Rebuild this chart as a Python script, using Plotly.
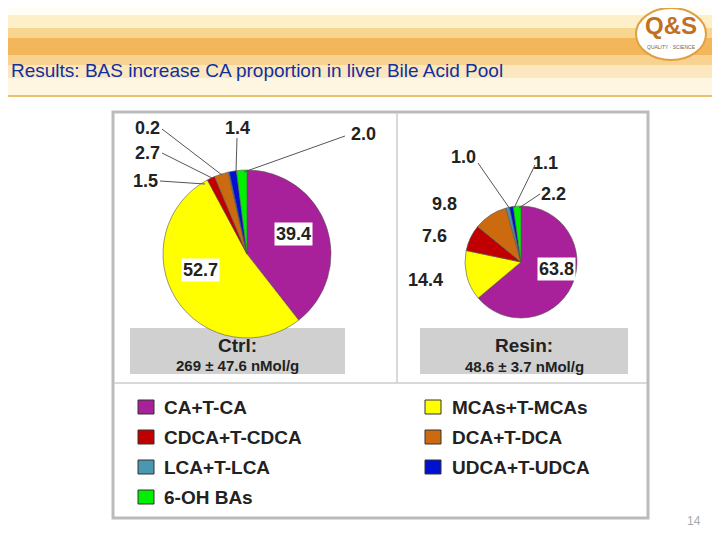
import plotly.graph_objects as go

groups = ["CA+T-CA", "MCAs+T-MCAs", "CDCA+T-CDCA", "DCA+T-DCA", "LCA+T-LCA", "UDCA+T-UDCA", "6-OH BAs"]
ctrl_vals = [39.4, 52.7, 1.5, 2.7, 0.2, 1.4, 2.0]
resin_vals = [63.8, 14.4, 7.6, 9.8, 1.0, 1.1, 2.2]
colors = ["#A8209A", "#FFFF00", "#C00000", "#CC6A10", "#4A98B0", "#0010D0", "#00F000"]
legend_order_left = [0, 2, 4, 6]
legend_order_right = [1, 3, 5]

W, H = 720, 540
OFF = 8
def px(x): return (x - OFF) / W
def py(y): return 1 - (y - OFF) / H

fig = go.Figure()
fig.add_trace(go.Pie(values=ctrl_vals, labels=groups, marker=dict(colors=colors, line=dict(color="#555", width=0.6)),
                     sort=False, direction="clockwise", rotation=0, textinfo="none", hoverinfo="label+value",
                     domain=dict(x=[px(150), px(344)], y=[py(338), py(170)]), showlegend=False))
fig.add_trace(go.Pie(values=resin_vals, labels=groups, marker=dict(colors=colors, line=dict(color="#555", width=0.6)),
                     sort=False, direction="clockwise", rotation=0, textinfo="none", hoverinfo="label+value",
                     domain=dict(x=[px(450), px(592)], y=[py(318), py(206)]), showlegend=False))

shapes = []
bands = [(0, 15, "#FFFDF4"), (15, 28, "#FDEFC8"), (28, 38, "#F9D690"), (38, 55, "#F3B65A"), (55, 65, "#F8D290"),
         (65, 78, "#FCE8C0"), (78, 96, "#FFF6E2")]
for y0, y1, c in bands:
    shapes.append(dict(type="rect", xref="paper", yref="paper", x0=0, x1=1, y0=py(y1), y1=min(1, py(y0)),
                       fillcolor=c, line=dict(width=0), layer="below"))
shapes.append(dict(type="line", xref="paper", yref="paper", x0=0, x1=1, y0=py(96), y1=py(96), line=dict(color="#E8C070", width=2)))
shapes.append(dict(type="rect", xref="paper", yref="paper", x0=px(113), x1=px(648), y0=py(518), y1=py(112),
                   line=dict(color="#BBBBBB", width=3), fillcolor="white", layer="below"))
shapes.append(dict(type="line", xref="paper", yref="paper", x0=px(397), x1=px(397), y0=py(383), y1=py(113), line=dict(color="#CCCCCC", width=1.5)))
shapes.append(dict(type="line", xref="paper", yref="paper", x0=px(114), x1=px(647), y0=py(383), y1=py(383), line=dict(color="#CCCCCC", width=1.5)))
for x0, x1 in [(130, 345), (420, 628)]:
    shapes.append(dict(type="rect", xref="paper", yref="paper", x0=px(x0), x1=px(x1), y0=py(374), y1=py(328),
                       fillcolor="#D0D0D0", line=dict(width=0), layer="below"))
shapes.append(dict(type="circle", xref="paper", yref="paper", x0=px(636), x1=px(706), y0=py(60), y1=py(8),
                   fillcolor="white", line=dict(color="#E0A040", width=2)))
leaders = [((160, 181), (205, 184)), ((162, 153), (212, 178)), ((162, 129), (222, 175)),
           ((237, 138), (236, 172)), ((345, 136), (244, 172)),
           ((478, 163), (510, 209)), ((535, 165), (514, 208)), ((540, 194), (519, 208))]
for (a, b) in leaders:
    shapes.append(dict(type="line", xref="paper", yref="paper", x0=px(a[0]), y0=py(a[1]), x1=px(b[0]), y1=py(b[1]),
                       line=dict(color="#555", width=1)))

anns = []
F = "Liberation Sans, Arial"
def T(x, y, s, size=18, bold=True, color="#222", xa="center", bg=None):
    anns.append(dict(x=px(x), y=py(y), xref="paper", yref="paper", text=f"<b>{s}</b>" if bold else s, showarrow=False,
                     xanchor=xa, yanchor="middle", font=dict(family=F, size=size, color=color), bgcolor=bg))

ctrl_pos = [(293, 234, "white"), (200, 270, "white"), (145, 181, None), (147, 153, None), (147, 128, None), (237, 128, None), (363, 134, None)]
for v, (x, y, bg) in zip(ctrl_vals, ctrl_pos):
    T(x, y, f"{v}", bg=bg)
resin_pos = [(556, 269, "white"), (425, 280, None), (434, 236, None), (445, 204, None), (463, 157, None), (545, 163, None), (553, 194, None)]
for v, (x, y, bg) in zip(resin_vals, resin_pos):
    T(x, y, f"{v}", bg=bg)

T(237, 345, "Ctrl:", size=19)
T(237, 365, "269 ± 47.6 nMol/g", size=15)
T(524, 345, "Resin:", size=19)
T(524, 366, "48.6 ± 3.7 nMol/g", size=15)

for row, gi in enumerate(legend_order_left):
    y = 407 + 30 * row
    shapes.append(dict(type="rect", xref="paper", yref="paper", x0=px(138), x1=px(154), y0=py(y + 7), y1=py(y - 7),
                       fillcolor=colors[gi], line=dict(color="#333", width=1)))
    T(162, y, groups[gi], size=19, xa="left")
for row, gi in enumerate(legend_order_right):
    y = 407 + 30 * row
    shapes.append(dict(type="rect", xref="paper", yref="paper", x0=px(425), x1=px(441), y0=py(y + 7), y1=py(y - 7),
                       fillcolor=colors[gi], line=dict(color="#333", width=1)))
    T(450, y, groups[gi], size=19, xa="left")

T(9, 70, "Results: BAS increase CA proportion in liver Bile Acid Pool", size=19, bold=False, color="#1030A0", xa="left")
T(671, 26, "Q&S", size=24, color="#C07020")
T(671, 47, "QUALITY · SCIENCE", size=5, bold=False, color="#806040")
T(694, 521, "14", size=12, bold=False, color="#AAAAAA")

fig.update_layout(width=W, height=H, margin=dict(l=0, r=0, t=0, b=0), paper_bgcolor="white",
                  plot_bgcolor="white", shapes=shapes, annotations=anns)
fig.write_html("out.html")
